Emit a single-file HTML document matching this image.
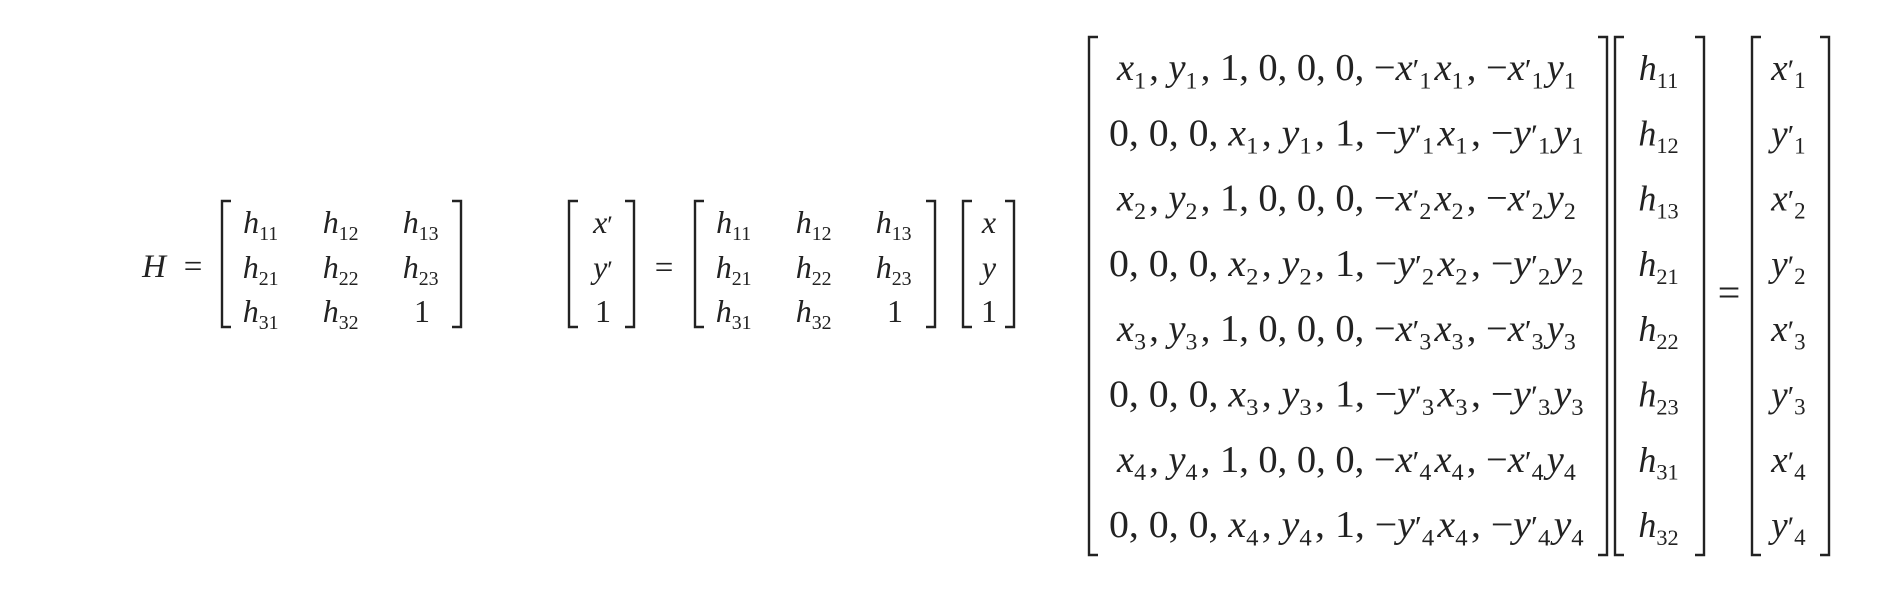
<!DOCTYPE html>
<html><head><meta charset="utf-8"><style>
html,body{margin:0;padding:0;background:#fff;}
svg{display:block}
.cm{font-family:"Liberation Serif",serif;fill:#222;}
.br{fill:none;stroke:#222;stroke-width:2.4}
</style></head><body>
<svg id="s" width="1902" height="604" viewBox="0 0 1902 604" xmlns="http://www.w3.org/2000/svg">
</svg>
<script>
const svg=document.getElementById('s');
const NS='http://www.w3.org/2000/svg';
function bracket(x1,x2,y1,y2,name){
  const w=9;
  const p=document.createElementNS(NS,'path');
  p.setAttribute('d',`M${x1+w},${y1}H${x1}V${y2}H${x1+w}M${x2-w},${y1}H${x2}V${y2}H${x2-w}`);
  p.setAttribute('class','br');
  
  
  svg.appendChild(p);
}
function txt(str,x,y,size,italicLetters,name,len){
  const t=document.createElementNS(NS,'text');
  t.setAttribute('x',x);t.setAttribute('y',y);
  t.setAttribute('class','cm');t.setAttribute('font-size',size);
  t.setAttribute('text-anchor','middle');
  if(len){t.setAttribute('textLength',len);t.setAttribute('lengthAdjust','spacingAndGlyphs');}
  
  
  let i=0;
  while(i<str.length){
    const c=str[i];
    const s=document.createElementNS(NS,'tspan');
    if(c==='_'){
      let d='';i++;while(i<str.length&&/[0-9]/.test(str[i])){d+=str[i];i++;}
      s.textContent=d;s.setAttribute('font-size',size*0.62);s.setAttribute('dy',size*0.22);
      t.appendChild(s);
      const r=document.createElementNS(NS,'tspan');r.textContent='\u200a';r.setAttribute('dy',-size*0.22);t.appendChild(r);
      continue;
    }
    if(c==="'"){s.textContent='′';s.setAttribute('font-size',size*0.8);t.appendChild(s);i++;continue;}
    s.textContent=c;
    if(/[a-zA-Z]/.test(c)&&italicLetters)s.setAttribute('font-style','italic');
    t.appendChild(s);i++;
  }
  svg.appendChild(t);
}
txt('H',154,277,33,true,'h-label');
txt('=',193,277,33,false,'h-equals');
bracket(222,461,201,327,'h-matrix-brackets');
const hEntries=[['h_11','h_12','h_13'],['h_21','h_22','h_23'],['h_31','h_32','1']];
const hcols=[262,342,422],hrows=[233,278,322];
hEntries.forEach((r,ri)=>r.forEach((e,ci)=>txt(e,hcols[ci],hrows[ri],32,true,'h-entry')));
bracket(569,634,201,327,'xprime-vector-brackets');
["x'","y'","1"].forEach((e,i)=>txt(e,603,hrows[i],32,true,'xprime-entry'));
txt('=',664,278,33,false,'equals-sign-1');
bracket(695,935,201,327,'h-matrix-2-brackets');
const h2cols=[735,815,895];
hEntries.forEach((r,ri)=>r.forEach((e,ci)=>txt(e,h2cols[ci],hrows[ri],32,true,'h2-entry')));
bracket(963,1014,201,327,'x-vector-brackets');
["x","y","1"].forEach((e,i)=>txt(e,989,hrows[i],32,true,'x-entry'));
const rows=[
"x_1, y_1, 1, 0, 0, 0, −x'_1x_1, −x'_1y_1",
"0, 0, 0, x_1, y_1, 1, −y'_1x_1, −y'_1y_1",
"x_2, y_2, 1, 0, 0, 0, −x'_2x_2, −x'_2y_2",
"0, 0, 0, x_2, y_2, 1, −y'_2x_2, −y'_2y_2",
"x_3, y_3, 1, 0, 0, 0, −x'_3x_3, −x'_3y_3",
"0, 0, 0, x_3, y_3, 1, −y'_3x_3, −y'_3y_3",
"x_4, y_4, 1, 0, 0, 0, −x'_4x_4, −x'_4y_4",
"0, 0, 0, x_4, y_4, 1, −y'_4x_4, −y'_4y_4"];
const hv=['h_11','h_12','h_13','h_21','h_22','h_23','h_31','h_32'];
const rv=["x'_1","y'_1","x'_2","y'_2","x'_3","y'_3","x'_4","y'_4"];
bracket(1089,1607,37,555,'a-matrix-brackets');
bracket(1615,1704,37,555,'h-vector-brackets');
bracket(1752,1829,37,555,'rhs-vector-brackets');
rows.forEach((r,i)=>{const y=80+i*65.3;
  txt(r,1348,y,38,true,'a-matrix-row',i%2?478:462);
  txt(hv[i],1660,y,36,true,'h-vector-entry');
  txt(rv[i],1790,y,37,true,'rhs-entry');
});
txt('=',1729,306,40,false,'equals-sign-2');
</script>
</body></html>
